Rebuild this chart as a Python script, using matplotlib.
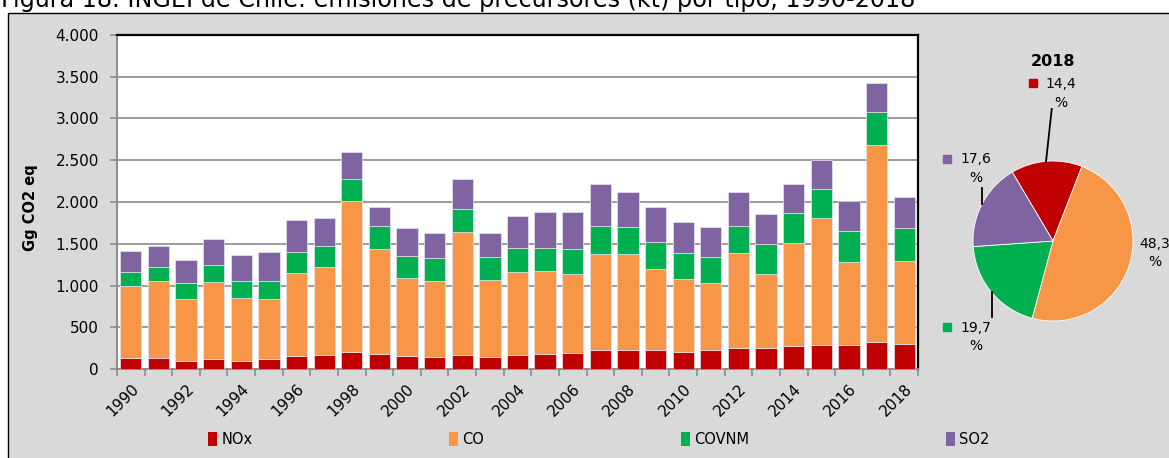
import numpy as np
import matplotlib.pyplot as plt
from matplotlib.patches import Rectangle, Patch
from matplotlib.ticker import FuncFormatter

# -----------------------------------------------
# Data (kt per year)
# -----------------------------------------------
years = list(range(1990, 2019))
nox = [128, 128, 100, 116, 100, 116, 156, 172, 200, 176, 156, 144, 164, 144, 170,
       180, 192, 228, 228, 228, 204, 228, 252, 252, 276, 288, 288, 328, 296]
co = [864, 924, 736, 924, 748, 720, 992, 1044, 1812, 1260, 932, 908, 1472, 924, 986,
      992, 944, 1148, 1144, 968, 868, 800, 1136, 884, 1228, 1516, 992, 2352, 993]
covnm = [172, 164, 188, 208, 200, 216, 248, 260, 268, 272, 268, 272, 280, 268, 296,
         280, 300, 332, 332, 320, 312, 308, 328, 360, 360, 348, 368, 392, 405]
so2 = [248, 256, 280, 304, 316, 348, 384, 328, 324, 232, 336, 304, 360, 296, 380,
       432, 448, 512, 420, 428, 372, 360, 404, 356, 348, 352, 360, 356, 362]

series_names = ["NOx", "CO", "COVNM", "SO2"]
series_colors = ["#C00000", "#F79646", "#00B050", "#8064A2"]
pie_year = 2018

title = "Figura 18. INGEI de Chile: emisiones de precursores (kt) por tipo, 1990-2018"

W, H = 1169, 458
plt.rcParams['font.family'] = ['DejaVu Sans']

fig = plt.figure(figsize=(W / 100, H / 100), dpi=100)

# gray chart frame (behind everything)
fig.patches.append(Rectangle((7.5 / W, -0.1), 1.2, 1.1 - 12.5 / H,
                             transform=fig.transFigure, facecolor="#d9d9d9",
                             edgecolor="black", lw=1, zorder=-5))
fig.text(0.001, 1 - 7.5 / H, title, fontsize=17.2, va="baseline", ha="left")

# -----------------------------------------------
# Stacked bars
# -----------------------------------------------
ax = fig.add_axes([117 / W, 1 - 369 / H, (918 - 117) / W, (369 - 35) / H])
ax.set_facecolor("white")
x = np.arange(len(years))
bottom = np.zeros(len(years))
for name, vals, col in zip(series_names, [nox, co, covnm, so2], series_colors):
    ax.bar(x, vals, width=0.77, bottom=bottom, color=col, edgecolor="#e8e2f0",
           linewidth=0.5, zorder=3, label=name)
    bottom += np.array(vals)

ax.set_xlim(-0.5, len(years) - 0.5)
ax.set_ylim(0, 4000)
ax.set_yticks(np.arange(0, 4001, 500))
ax.yaxis.set_major_formatter(FuncFormatter(lambda v, p: f"{int(v):,}".replace(",", ".")))
ax.yaxis.grid(True, color="#8c8c8c", lw=1.2, zorder=0)
ax.tick_params(axis="y", length=5, width=1.2, color="#8c8c8c", pad=8, labelsize=11)

ax.set_xticks(x[::2])
ax.set_xticklabels([str(y) for y in years[::2]], rotation=45, ha="right",
                   va="top", rotation_mode="anchor", fontsize=11)
ax.set_xticks(np.arange(-0.5, len(years), 1), minor=True)
ax.tick_params(axis="x", which="major", length=0, pad=9)
ax.tick_params(axis="x", which="minor", length=5, width=1.2, color="#8c8c8c")

for s in ["top", "right"]:
    ax.spines[s].set_color("black")
    ax.spines[s].set_linewidth(1.6)
for s in ["left", "bottom"]:
    ax.spines[s].set_color("#8c8c8c")
    ax.spines[s].set_linewidth(1.4)

fig.text(30 / W, 1 - 208 / H, "Gg CO2 eq", rotation=90, fontsize=10.5,
         fontweight="bold", ha="center", va="center")

handles = [Patch(facecolor=c, edgecolor="none") for c in series_colors]
fig.legend(handles, series_names, ncol=4, loc="center left",
           bbox_to_anchor=(201 / W, 1 - 439 / H), frameon=False, fontsize=10.5,
           handlelength=0.6, handleheight=1.1, handletextpad=0.3,
           columnspacing=13.5, borderpad=0)

# -----------------------------------------------
# Pie for the last year
# -----------------------------------------------
i = years.index(pie_year)
pie_vals = [nox[i], co[i], covnm[i], so2[i]]
total = sum(pie_vals)

R = 80
cx, cy = 1053, 241
pax = fig.add_axes([(cx - R) / W, 1 - (cy + R) / H, 2 * R / W, 2 * R / H])
pax.pie(pie_vals, colors=series_colors, startangle=120.6, counterclock=False,
        wedgeprops=dict(linewidth=0.6, edgecolor="white"))
pax.set_xlim(-1, 1)
pax.set_ylim(-1, 1)
pax.text(0, (cy - 61) / R, str(pie_year), fontsize=11.5, fontweight="bold",
         ha="center", va="center", clip_on=False)

# label layout: text centre, key square, leader line (pie radius units)
label_pos = [(0.10, 1.84), (1.27, -0.15), (-0.96, -1.20), (-0.96, 0.906)]
key_pos = [(-0.254, 1.97), None, (-1.32, -1.07), (-1.32, 1.03)]
leaders = [((-0.016, 1.65), (-0.0875, 0.99)), None,
           ((-0.7625, -0.6375), (-0.7625, -0.95)),
           ((-0.884, 0.659), (-0.884, 0.4625))]
for v, col, lp, kp, ld in zip(pie_vals, series_colors, label_pos, key_pos, leaders):
    pct = f"{100 * v / total:.1f}".replace(".", ",")
    pax.text(lp[0], lp[1], pct + "\n%", ha="center", va="center", fontsize=10,
             linespacing=1.45, clip_on=False)
    if kp is not None:
        pax.plot([kp[0]], [kp[1]], marker="s", ms=6, color=col, clip_on=False)
    if ld is not None:
        pax.plot([ld[0][0], ld[1][0]], [ld[0][1], ld[1][1]], color="black",
                 lw=1.3, clip_on=False)

fig.savefig("out.png", dpi=100)
